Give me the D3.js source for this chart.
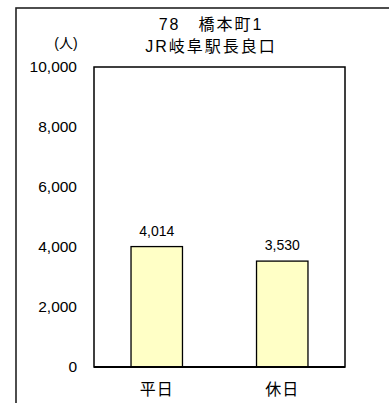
<!DOCTYPE html>
<html><head><meta charset="utf-8">
<script src="https://cdn.jsdelivr.net/npm/d3@7"></script>
<style>body{margin:0;background:#fff}svg{display:block}text{font-family:"Liberation Sans","Noto Sans CJK JP",sans-serif;fill:#000}</style>
</head><body>
<script>
const categories = ["平日", "休日"];
const values = [4014, 3530];
const yTicks = [0, 2000, 4000, 6000, 8000, 10000];
const titleLines = ["78　橋本町1", "JR岐阜駅長良口"];
const unitLabel = "(人)";

const W = 389, H = 403;
const m = {left: 94, right: 345, top: 67, bottom: 367};
const svg = d3.select("body").append("svg").attr("width", W).attr("height", H);

svg.append("rect").attr("x", 16).attr("y", 8).attr("width", 400).attr("height", 420)
  .attr("fill", "none").attr("stroke", "#222").attr("stroke-width", 1.6);

const x = d3.scaleBand().domain(categories).range([m.left, m.right]).paddingInner(0.59).paddingOuter(0.295);
const y = d3.scaleLinear().domain([0, 10000]).range([m.bottom, m.top]);

svg.append("rect").attr("x", m.left).attr("y", m.top).attr("width", m.right - m.left).attr("height", m.bottom - m.top)
  .attr("fill", "#fff").attr("stroke", "#000").attr("stroke-width", 1.5);

svg.selectAll("rect.bar").data(values).enter().append("rect").attr("class", "bar")
  .attr("x", (d, i) => x(categories[i])).attr("width", x.bandwidth())
  .attr("y", d => y(d)).attr("height", d => y(0) - y(d))
  .attr("fill", "#FFFFC6").attr("stroke", "#000").attr("stroke-width", 1.3);

svg.append("line").attr("x1", m.left).attr("x2", m.right).attr("y1", m.bottom).attr("y2", m.bottom)
  .attr("stroke", "#000").attr("stroke-width", 2.2);

const yAxis = d3.axisLeft(y).tickValues(yTicks).tickSize(0).tickPadding(17).tickFormat(d3.format(","));
const ga = svg.append("g").attr("transform", `translate(${m.left},0)`).call(yAxis);
ga.select(".domain").remove();
ga.selectAll("text").attr("font-size", 15.5).style("font-family", '"Liberation Sans","Noto Sans CJK JP",sans-serif');

const xAxis = d3.axisBottom(x).tickSize(0).tickPadding(17);
const gx = svg.append("g").attr("transform", `translate(0,${m.bottom})`).call(xAxis);
gx.select(".domain").remove();
gx.selectAll("text").attr("font-size", 16).attr("letter-spacing", 1).style("font-family", '"Noto Sans CJK JP",sans-serif');

svg.selectAll("text.val").data(values).enter().append("text").attr("class", "val")
  .attr("x", (d, i) => x(categories[i]) + x.bandwidth() / 2).attr("y", d => y(d) - 11)
  .attr("text-anchor", "middle").attr("font-size", 14).text(d3.format(","));

svg.selectAll("text.title").data(titleLines).enter().append("text").attr("class", "title")
  .attr("x", 211).attr("y", (d, i) => 30 + i * 21.5).attr("text-anchor", "middle")
  .attr("font-size", 16).attr("letter-spacing", 2).text(d => d);

svg.append("text").attr("x", 66).attr("y", 48).attr("text-anchor", "middle").attr("font-size", 14).text(unitLabel);
</script>
</body></html>
